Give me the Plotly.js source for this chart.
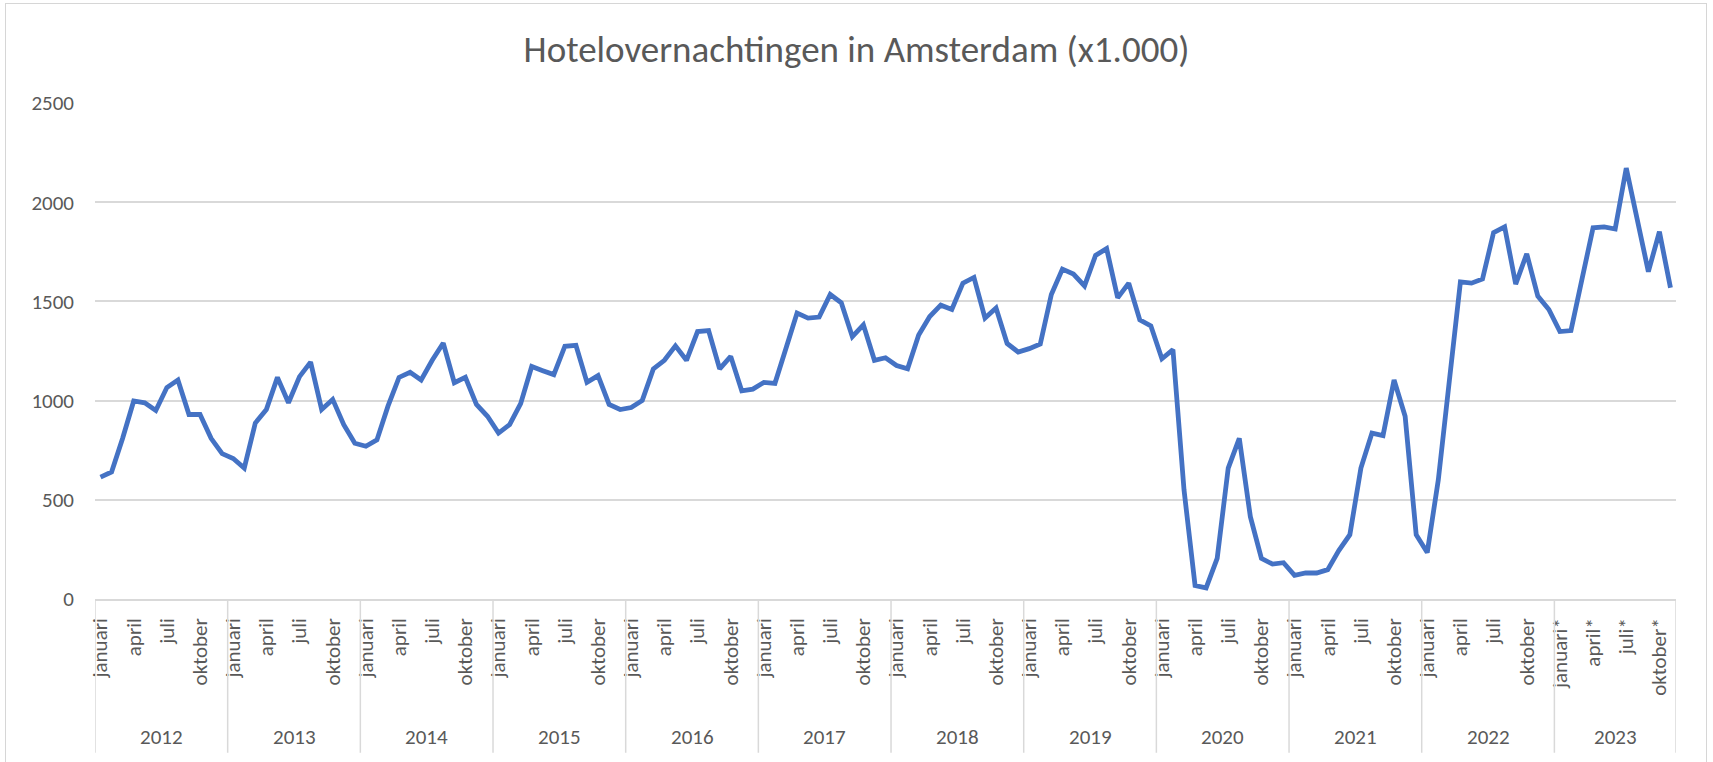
<!DOCTYPE html>
<html>
<head>
<meta charset="utf-8">
<script src="https://cdn.plot.ly/plotly-3.0.1.min.js"></script>
<style>
  html, body { margin: 0; padding: 0; background: #ffffff; }
  #chart { width: 1713px; height: 762px; }
  #frame { position: absolute; left: 5px; top: 3px; width: 1700px; height: 800px;
           border: 1.5px solid #d6d6d6; pointer-events: none; }
</style>
</head>
<body>
<div id="chart"></div>
<div id="frame"></div>
<script>
// ---- data (x 1.000 hotel nights) ----
const years = ['2012','2013','2014','2015','2016','2017','2018','2019','2020','2021','2022','2023'];
const monthNames = ['januari','februari','maart','april','mei','juni','juli','augustus','september','oktober','november','december'];
const provisionalYear = '2023';

const v2012 = [614, 640, 810, 998, 989, 950, 1066, 1104, 930, 930, 810, 733];
const v2013 = [708, 660, 887, 955, 1117, 989, 1121, 1194, 955, 1006, 879, 785];
const v2014 = [770, 802, 972, 1117, 1143, 1104, 1203, 1290, 1090, 1117, 981, 921];
const v2015 = [836, 879, 985, 1172, 1151, 1131, 1274, 1279, 1092, 1126, 981, 955];
const v2016 = [965, 1001, 1160, 1203, 1276, 1203, 1348, 1353, 1160, 1223, 1049, 1058];
const v2017 = [1092, 1087, 1264, 1441, 1416, 1421, 1535, 1493, 1322, 1382, 1203, 1216];
const v2018 = [1177, 1160, 1331, 1424, 1481, 1459, 1592, 1621, 1416, 1467, 1288, 1245];
const v2019 = [1262, 1285, 1535, 1663, 1638, 1578, 1732, 1766, 1518, 1592, 1407, 1377];
const v2020 = [1211, 1257, 550, 68, 56, 205, 660, 810, 415, 205, 176, 183];
const v2021 = [119, 131, 131, 148, 244, 324, 660, 836, 824, 1104, 921, 324];
const v2022 = [234, 600, 1100, 1598, 1592, 1613, 1847, 1876, 1587, 1740, 1527, 1459];
const v2023 = [1348, 1353, 1613, 1871, 1876, 1865, 2172, 1920, 1650, 1851, 1569];

const valuesByYear = [v2012, v2013, v2014, v2015, v2016, v2017, v2018, v2019, v2020, v2021, v2022, v2023];
const labelledMonths = ['januari', 'april', 'juli', 'oktober'];

// ---- build series ----
const xIdx = [], yVals = [], hoverText = [];
const tickvals = [], ticktext = [];
const yearStart = [], yearLen = [];
let k = 0;
valuesByYear.forEach((vals, yi) => {
  yearStart.push(k); yearLen.push(vals.length);
  vals.forEach((v, mi) => {
    const star = years[yi] === provisionalYear ? '*' : '';
    xIdx.push(k); yVals.push(v);
    hoverText.push(monthNames[mi] + star + ' ' + years[yi]);
    if (labelledMonths.includes(monthNames[mi])) {
      tickvals.push(k); ticktext.push(monthNames[mi] + star);
    }
    k++;
  });
});
const nPts = k;

const FONT = 'Carlito, Calibri, Lato, "Open Sans", sans-serif';
const GREY = '#595959';
const GRID = '#d9d9d9';

// year separators and year labels (in axis units via data indices)
const shapes = [];
const annotations = [];
const sepBottom = -0.31;
for (let i = 0; i <= years.length; i++) {
  const xb = (i < years.length ? yearStart[i] : nPts) - 0.5;
  shapes.push({type: 'line', xref: 'x', yref: 'paper', x0: xb, x1: xb, y0: 0, y1: sepBottom,
               line: {color: GRID, width: 1.5}});
}
years.forEach((yr, i) => {
  annotations.push({xref: 'x', yref: 'paper', x: yearStart[i] + (yearLen[i] - 1) / 2, y: -0.278,
                    text: yr, showarrow: false, yanchor: 'middle', xanchor: 'center',
                    font: {family: FONT, size: 21, color: GREY}});
});

const trace = {
  x: xIdx, y: yVals, text: hoverText, type: 'scatter', mode: 'lines',
  line: {color: '#4472C4', width: 4.8, shape: 'linear'},
  hovertemplate: '%{text}: %{y}<extra></extra>'
};

const layout = {
  width: 1713, height: 762,
  margin: {l: 95, r: 37, t: 103, b: 163},
  paper_bgcolor: '#ffffff', plot_bgcolor: '#ffffff',
  showlegend: false,
  title: {text: 'Hotelovernachtingen in Amsterdam (x1.000)', xref: 'container', x: 0.5,
          yref: 'container', y: 1 - 49/762, yanchor: 'middle', xanchor: 'center',
          font: {family: FONT, size: 37, color: GREY}},
  xaxis: {
    range: [-0.5, nPts - 0.5], tickmode: 'array', tickvals: tickvals, ticktext: ticktext,
    tickangle: -90, ticks: '', showgrid: false, zeroline: false,
    showline: true, linecolor: GRID, linewidth: 1.5,
    tickfont: {family: FONT, size: 21, color: GREY}, ticklabelstandoff: 9
  },
  yaxis: {
    range: [0, 2500], dtick: 500, tick0: 0, showgrid: true, gridcolor: GRID, gridwidth: 1.5,
    zeroline: false, showline: false, ticks: '',
    tickfont: {family: FONT, size: 21, color: GREY}, ticklabelstandoff: 20
  },
  shapes: shapes,
  annotations: annotations
};

Plotly.newPlot('chart', [trace], layout, {displayModeBar: false, responsive: false});
</script>
</body>
</html>
